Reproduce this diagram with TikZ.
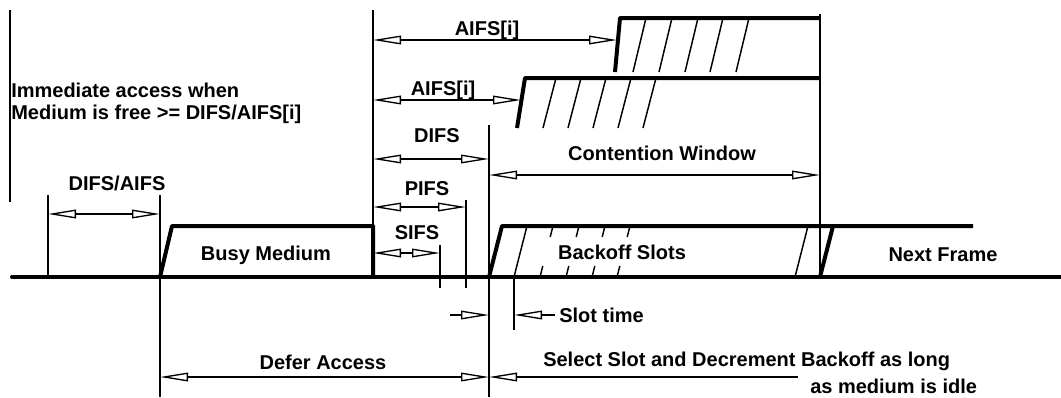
\documentclass[tikz,border=0pt]{standalone}
\usepackage{fontspec}
\setmainfont{Liberation Sans}
\usetikzlibrary{arrows.meta}
\begin{document}
\begin{tikzpicture}[x=0.75pt,y=-0.75pt,
  >={Triangle[open,length=21pt,width=6.5pt]},
  thinln/.style={line width=1.1pt},
  thickln/.style={line width=3pt},
  dim/.style={line width=1pt},
  lbl/.style={font=\bfseries\fontsize{15}{18}\selectfont, inner sep=0pt, text height=10.7pt, text depth=0pt},
]
\useasboundingbox (0,0) rectangle (1061,397);

% key coordinates
\coordinate (base0) at (12,277);
\coordinate (base1) at (1061,277);

% baseline
\draw[thickln, line cap=round] (base0) -- (base1);

% vertical reference lines
\draw[thinln] (10,10) -- (10,202);
\draw[thinln] (48,195) -- (48,277);
\draw[thinln] (160,195) -- (160,397);
\draw[thinln] (373,10) -- (373,277);
\draw[thinln] (489,125) -- (489,397);
\draw[thinln] (466,200) -- (466,288);
\draw[thinln] (440,245) -- (440,288);
\draw[thinln] (514,277) -- (514,330);
\draw[thinln] (820,14) -- (820,277);

% busy medium
\draw[thickln, line join=round] (160,277) -- (172,226) -- (373,226) -- (373,277);

% backoff slots and next frame
\draw[thickln, line join=round] (489,277) -- (502,226) -- (973,226);
\draw[thickln] (820,277) -- (833,226);
\draw[thinln] (514,277) -- (527,226);
\draw[thinln] (795,277) -- (808,226);
\foreach \xb in {540,566,592,617}{
  \draw[thinln] (\xb,277) -- ++(2.8,-11);
  \draw[thinln] (\xb+10.2,237) -- ++(2.8,-11);
}

% top AIFS slot
\draw[thickln, line join=round] (615,72) -- (620,18) -- (820,18);
\foreach \xb in {633,659,685,710,736}{
  \draw[thinln] (\xb,72) -- ++(13,-54);
}
% second AIFS slot
\draw[thickln, line join=round] (517,128) -- (525,78) -- (820,78);
\foreach \xb in {543,568,593,618,643}{
  \draw[thinln] (\xb,128) -- ++(13,-50);
}

% dimension arrows
\draw[dim,<->] (48,214) -- (160,214);
\draw[dim,<->] (373,40) -- (617,40);
\draw[dim,<->] (373,100) -- (521,100);
\draw[dim,<->] (373,159) -- (489,159);
\draw[dim,<->] (489,175) -- (820,175);
\draw[dim,<->] (373,207) -- (466,207);
\draw[dim,<->] (373,253) -- (440,253);
\draw[dim,<->] (160,377) -- (489,377);
\draw[dim,<-] (489,377) -- (798,377);
\draw[dim,->] (450,315) -- (489,315);
\draw[dim,<-] (514,315) -- (555,315);

% labels
\node[lbl, anchor=west] (imm1) at (11,90) {Immediate access when};
\node[lbl, anchor=west] (imm2) at (11,112) {Medium is free >= DIFS/AIFS[i]};
\node[lbl] (difsaifs) at (117,183) {DIFS/AIFS};
\node[lbl] (aifs1) at (487,28) {AIFS[i]};
\node[lbl] (aifs2) at (443,88) {AIFS[i]};
\node[lbl] (difs) at (437,135) {DIFS};
\node[lbl] (cw) at (662,153) {Contention Window};
\node[lbl] (pifs) at (427,188) {PIFS};
\node[lbl] (sifs) at (417,232) {SIFS};
\node[lbl] (busy) at (266,253) {Busy Medium};
\node[lbl] (backoff) at (622,252) {Backoff Slots};
\node[lbl] (next) at (943,254) {Next Frame};
\node[lbl, anchor=west] (slot) at (559,315) {Slot time};
\node[lbl] (defer) at (323,362) {Defer Access};
\node[lbl, anchor=west] (sel1) at (543,359) {Select Slot and Decrement Backoff as long};
\node[lbl, anchor=base west] (sel2) at (810,393) {as medium is idle};
\end{tikzpicture}
\end{document}
